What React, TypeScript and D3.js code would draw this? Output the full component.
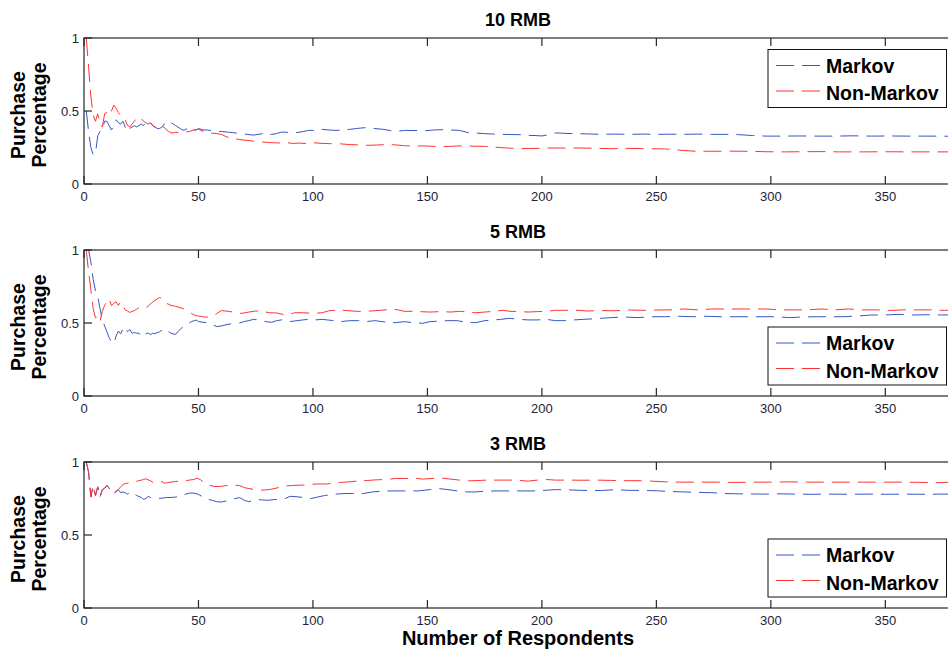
import React from 'react';
import * as d3 from 'd3';

type Pt = [number, number];

const panelTitles = ['10 RMB', '5 RMB', '3 RMB'];
const seriesNames = ['Markov', 'Non-Markov'];
const xTicks = [0, 50, 100, 150, 200, 250, 300, 350];
const yTicks = [0, 0.5, 1];
const xLabel = 'Number of Respondents';
const yLabelLines = ['Purchase', 'Percentage'];

const markov10: Pt[] = [
  [1,0.50],[2,0.36],[3,0.25],[4,0.20],[5,0.21],[6,0.33],[7,0.36],[8,0.37],[9,0.43],[10,0.43],[11,0.40],[12,0.37],[13,0.40],[14,0.44],[15,0.42],[16,0.41],[17,0.43],[18,0.39],[19,0.36],[20,0.38],[21,0.39],[22,0.40],[23,0.39],[24,0.40],[25,0.41],[26,0.40],[27,0.42],[28,0.41],[29,0.42],[30,0.40],[31,0.39],[32,0.38],[33,0.38],[34,0.39],[35,0.41],[36,0.42],[37,0.43],[38,0.42],[39,0.41],[40,0.40],[41,0.39],[42,0.38],[43,0.37],[44,0.37],[45,0.38],[46,0.37],[47,0.36],[48,0.37],[49,0.37],[50,0.38],[52,0.37],[54,0.37],[57,0.36],[60,0.36],[63,0.355],[66,0.35],[68,0.345],[71,0.34],[74,0.335],[76,0.34],[78,0.345],[80,0.335],[82,0.34],[84,0.345],[86,0.355],[88,0.355],[91,0.35],[93,0.352],[96,0.36],[98,0.367],[100,0.367],[104,0.374],[107,0.37],[110,0.367],[113,0.37],[116,0.374],[119,0.38],[122,0.385],[124,0.386],[127,0.38],[131,0.374],[134,0.365],[136,0.36],[140,0.367],[145,0.366],[149,0.365],[153,0.37],[156,0.372],[160,0.37],[164,0.367],[168,0.351],[172,0.348],[175,0.345],[179,0.342],[182,0.34],[186,0.339],[190,0.338],[194,0.333],[197,0.332],[200,0.329],[203,0.338],[206,0.35],[210,0.347],[214,0.345],[220,0.343],[226,0.34],[232,0.342],[238,0.34],[244,0.342],[250,0.34],[256,0.341],[262,0.34],[268,0.342],[274,0.34],[280,0.34],[286,0.338],[292,0.332],[298,0.328],[305,0.328],[312,0.329],[320,0.328],[328,0.328],[336,0.33],[344,0.328],[352,0.329],[360,0.328],[368,0.328],[380,0.327]
];

const nonMarkov10: Pt[] = [
  [1,1.0],[2,0.8],[3,0.6],[4,0.47],[5,0.43],[6,0.48],[7,0.41],[8,0.39],[9,0.48],[10,0.49],[11,0.47],[12,0.50],[13,0.54],[14,0.52],[15,0.49],[16,0.47],[17,0.46],[18,0.44],[19,0.40],[20,0.39],[21,0.41],[22,0.43],[23,0.45],[24,0.46],[25,0.45],[26,0.43],[27,0.42],[28,0.41],[29,0.42],[30,0.40],[31,0.39],[32,0.39],[33,0.40],[34,0.39],[35,0.39],[36,0.37],[37,0.36],[38,0.35],[39,0.35],[40,0.355],[42,0.35],[44,0.355],[46,0.36],[48,0.37],[50,0.375],[52,0.36],[54,0.35],[56,0.348],[58,0.345],[60,0.34],[62,0.325],[64,0.315],[66,0.31],[68,0.305],[70,0.3],[72,0.298],[74,0.293],[76,0.29],[78,0.288],[80,0.285],[82,0.283],[85,0.281],[88,0.285],[91,0.278],[94,0.28],[97,0.277],[100,0.283],[104,0.278],[108,0.276],[112,0.275],[116,0.27],[120,0.268],[124,0.265],[128,0.267],[132,0.27],[136,0.268],[140,0.262],[145,0.261],[150,0.26],[155,0.256],[160,0.258],[165,0.261],[170,0.259],[175,0.258],[180,0.252],[185,0.246],[190,0.243],[195,0.243],[200,0.245],[205,0.247],[210,0.246],[215,0.247],[222,0.245],[230,0.242],[238,0.244],[246,0.242],[254,0.24],[260,0.232],[266,0.225],[274,0.224],[282,0.225],[290,0.224],[298,0.221],[306,0.22],[314,0.221],[322,0.222],[330,0.22],[340,0.22],[350,0.221],[360,0.22],[370,0.22],[380,0.22]
];

const markov5: Pt[] = [
  [1,1.0],[2,1.0],[3,0.92],[4,0.8],[5,0.72],[6,0.68],[7,0.6],[8,0.52],[9,0.48],[10,0.44],[11,0.40],[12,0.37],[13,0.36],[14,0.41],[15,0.445],[16,0.425],[17,0.46],[18,0.475],[19,0.44],[20,0.455],[21,0.43],[22,0.435],[23,0.43],[24,0.43],[25,0.41],[26,0.405],[27,0.425],[28,0.432],[29,0.42],[30,0.43],[31,0.428],[32,0.434],[33,0.44],[34,0.45],[35,0.46],[36,0.452],[37,0.44],[38,0.43],[39,0.425],[40,0.422],[41,0.44],[42,0.457],[43,0.47],[44,0.485],[45,0.49],[46,0.5],[47,0.51],[48,0.515],[49,0.52],[50,0.51],[52,0.505],[54,0.502],[56,0.49],[58,0.475],[60,0.48],[62,0.488],[64,0.494],[66,0.5],[68,0.5],[70,0.51],[72,0.516],[74,0.525],[76,0.521],[78,0.515],[80,0.508],[82,0.505],[84,0.515],[86,0.521],[88,0.522],[90,0.51],[92,0.514],[95,0.52],[98,0.525],[101,0.521],[104,0.525],[108,0.518],[112,0.509],[116,0.516],[120,0.516],[123,0.509],[127,0.516],[131,0.508],[136,0.502],[140,0.509],[144,0.502],[148,0.498],[151,0.509],[155,0.513],[159,0.516],[163,0.516],[167,0.505],[171,0.502],[175,0.516],[179,0.521],[182,0.525],[186,0.532],[190,0.525],[194,0.521],[198,0.521],[202,0.525],[206,0.516],[210,0.516],[214,0.521],[218,0.525],[224,0.53],[230,0.537],[236,0.541],[242,0.537],[248,0.543],[254,0.543],[260,0.546],[266,0.543],[272,0.546],[278,0.543],[284,0.543],[290,0.543],[296,0.543],[302,0.543],[308,0.537],[314,0.541],[320,0.543],[326,0.543],[332,0.543],[338,0.548],[344,0.555],[350,0.555],[356,0.559],[362,0.555],[368,0.557],[374,0.555],[380,0.556]
];

const nonMarkov5: Pt[] = [
  [1,1.0],[2,0.85],[3,0.73],[4,0.6],[5,0.535],[6,0.545],[7,0.51],[8,0.58],[9,0.62],[10,0.65],[11,0.665],[12,0.62],[13,0.635],[14,0.645],[15,0.62],[16,0.645],[17,0.62],[18,0.59],[19,0.582],[20,0.572],[21,0.58],[22,0.585],[23,0.595],[24,0.605],[25,0.6],[26,0.604],[27,0.605],[28,0.615],[29,0.63],[30,0.643],[31,0.655],[32,0.665],[33,0.674],[34,0.668],[35,0.65],[36,0.635],[37,0.628],[38,0.62],[39,0.617],[40,0.614],[41,0.61],[42,0.605],[43,0.6],[44,0.596],[45,0.59],[46,0.577],[47,0.565],[48,0.556],[49,0.55],[50,0.548],[51,0.545],[53,0.54],[55,0.542],[57,0.552],[58,0.565],[60,0.585],[63,0.58],[66,0.573],[69,0.566],[72,0.575],[75,0.582],[78,0.58],[81,0.57],[84,0.569],[86,0.562],[88,0.556],[90,0.56],[92,0.57],[96,0.57],[100,0.566],[104,0.57],[107,0.584],[111,0.589],[115,0.585],[119,0.58],[123,0.58],[127,0.584],[131,0.589],[135,0.596],[137,0.59],[140,0.58],[144,0.58],[148,0.577],[151,0.575],[156,0.578],[160,0.575],[164,0.58],[168,0.575],[171,0.57],[175,0.575],[179,0.58],[183,0.587],[186,0.58],[191,0.578],[194,0.575],[198,0.578],[202,0.58],[206,0.587],[210,0.587],[214,0.589],[220,0.582],[226,0.585],[232,0.584],[238,0.589],[244,0.587],[250,0.589],[256,0.59],[262,0.596],[268,0.59],[274,0.596],[280,0.596],[286,0.596],[292,0.596],[298,0.596],[304,0.59],[310,0.59],[316,0.59],[322,0.596],[328,0.59],[334,0.596],[340,0.59],[346,0.59],[352,0.586],[358,0.59],[364,0.59],[370,0.59],[376,0.586],[380,0.59]
];

const markov3: Pt[] = [
  [1,1.0],[2,0.93],[3,0.76],[4,0.84],[5,0.77],[6,0.83],[7,0.76],[8,0.81],[9,0.82],[10,0.84],[11,0.82],[12,0.79],[13,0.78],[14,0.8],[15,0.81],[16,0.79],[17,0.795],[18,0.79],[19,0.78],[20,0.79],[21,0.795],[22,0.78],[23,0.77],[24,0.764],[25,0.757],[26,0.745],[27,0.75],[28,0.764],[29,0.757],[30,0.752],[32,0.75],[34,0.752],[36,0.757],[38,0.757],[40,0.76],[42,0.764],[44,0.778],[46,0.787],[48,0.787],[50,0.778],[52,0.76],[54,0.745],[56,0.738],[58,0.728],[60,0.726],[62,0.733],[64,0.742],[66,0.75],[68,0.756],[70,0.738],[72,0.728],[74,0.738],[76,0.742],[78,0.74],[80,0.738],[83,0.742],[86,0.746],[88,0.75],[90,0.765],[93,0.762],[96,0.756],[99,0.749],[102,0.76],[105,0.77],[108,0.776],[110,0.78],[114,0.784],[118,0.784],[122,0.784],[126,0.795],[130,0.8],[135,0.802],[140,0.802],[146,0.802],[151,0.811],[155,0.818],[159,0.811],[163,0.802],[167,0.795],[171,0.795],[175,0.8],[180,0.802],[186,0.802],[192,0.802],[198,0.802],[202,0.807],[206,0.811],[210,0.81],[215,0.807],[220,0.805],[226,0.805],[232,0.81],[238,0.806],[244,0.805],[250,0.803],[256,0.798],[262,0.795],[268,0.792],[274,0.79],[280,0.784],[286,0.782],[292,0.781],[298,0.78],[304,0.782],[310,0.78],[318,0.779],[326,0.78],[334,0.779],[342,0.78],[350,0.779],[358,0.78],[366,0.779],[374,0.78],[380,0.78]
];

const nonMarkov3: Pt[] = [
  [1,1.0],[2,0.93],[3,0.76],[4,0.84],[5,0.77],[6,0.83],[7,0.76],[8,0.81],[9,0.82],[10,0.84],[11,0.82],[12,0.79],[13,0.78],[14,0.8],[15,0.81],[16,0.83],[17,0.845],[18,0.852],[19,0.855],[20,0.86],[22,0.865],[24,0.872],[26,0.88],[27,0.885],[28,0.878],[29,0.871],[30,0.862],[31,0.855],[32,0.858],[33,0.862],[34,0.867],[35,0.855],[36,0.857],[38,0.862],[40,0.867],[42,0.869],[44,0.871],[46,0.876],[48,0.88],[49,0.887],[50,0.885],[51,0.878],[52,0.862],[53,0.855],[54,0.845],[55,0.84],[57,0.832],[59,0.832],[61,0.836],[63,0.84],[66,0.841],[68,0.838],[70,0.825],[72,0.818],[74,0.813],[76,0.81],[78,0.807],[80,0.81],[82,0.814],[85,0.825],[88,0.836],[91,0.839],[94,0.841],[97,0.843],[100,0.848],[103,0.85],[106,0.849],[108,0.853],[112,0.86],[116,0.864],[120,0.871],[124,0.874],[128,0.878],[132,0.88],[136,0.887],[140,0.887],[144,0.89],[148,0.883],[152,0.887],[156,0.89],[160,0.883],[164,0.876],[168,0.871],[172,0.873],[176,0.876],[182,0.876],[188,0.876],[194,0.869],[198,0.876],[202,0.88],[206,0.876],[212,0.876],[218,0.875],[224,0.876],[230,0.874],[236,0.872],[242,0.872],[248,0.869],[254,0.864],[260,0.862],[268,0.862],[276,0.862],[284,0.86],[292,0.862],[300,0.862],[308,0.864],[316,0.862],[324,0.862],[332,0.862],[340,0.862],[348,0.862],[356,0.862],[364,0.861],[372,0.858],[380,0.862]
];

const FONT = '"Liberation Sans", Arial, Helvetica, sans-serif';
const BLUE = '#3556c4';
const RED = '#ff3232';
const AXIS = '#262626';
const TICKTXT = '#232338';
const DASH = '18,8';

export default function App() {
  const W = 948;
  const H = 652;
  const left = 84;
  const right = 954;
  const ph = 146;
  const tops = [38, 250, 462];
  const legendAtTop = [true, false, false];
  const data = [
    [markov10, nonMarkov10],
    [markov5, nonMarkov5],
    [markov3, nonMarkov3],
  ];
  const x = d3.scaleLinear().domain([0, 380]).range([left, right]);
  const colors = [BLUE, RED];

  return (
    <svg
      width={W}
      height={H}
      style={{ position: 'absolute', left: 0, top: 0, background: '#fff', fontFamily: FONT }}
    >
      <rect x={0} y={0} width={W} height={H} fill="#fff" />
      {tops.map((top, pi) => {
        const y = d3.scaleLinear().domain([0, 1]).range([top + ph, top]);
        const line = d3
          .line<Pt>()
          .x((d) => x(d[0]))
          .y((d) => y(d[1]));
        const bottom = top + ph;
        const legTop = legendAtTop[pi] ? top + 11.5 : bottom - 69;
        const clipId = `clip${pi}`;
        return (
          <g key={pi}>
            <defs>
              <clipPath id={clipId}>
                <rect x={left} y={top} width={right - left} height={ph} />
              </clipPath>
            </defs>
            <text
              x={518}
              y={top - 12}
              textAnchor="middle"
              fontWeight="bold"
              fontSize={18}
              fill="#000"
            >
              {panelTitles[pi]}
            </text>
            <g clipPath={`url(#${clipId})`}>
              {data[pi].map((s, si) => (
                <path
                  key={si}
                  d={line(s) || ''}
                  fill="none"
                  stroke={colors[si]}
                  strokeWidth={1}
                  strokeDasharray={DASH}
                />
              ))}
            </g>
            <rect
              x={left}
              y={top}
              width={right - left}
              height={ph}
              fill="none"
              stroke={AXIS}
              strokeWidth={1.2}
            />
            {xTicks.map((t) => (
              <g key={t}>
                <line x1={x(t)} x2={x(t)} y1={bottom} y2={bottom - 8} stroke={AXIS} strokeWidth={1.2} />
                <line x1={x(t)} x2={x(t)} y1={top} y2={top + 8} stroke={AXIS} strokeWidth={1.2} />
                <text x={x(t)} y={bottom + 17} textAnchor="middle" fontSize={13} fill={TICKTXT}>
                  {t}
                </text>
              </g>
            ))}
            {yTicks.map((t) => (
              <g key={t}>
                <line x1={left} x2={left + 8} y1={y(t)} y2={y(t)} stroke={AXIS} strokeWidth={1.2} />
                <text
                  x={left - 5}
                  y={y(t) + 4.5}
                  textAnchor="end"
                  fontSize={13}
                  fill={TICKTXT}
                >
                  {t}
                </text>
              </g>
            ))}
            {yLabelLines.map((l, li) => (
              <text
                key={li}
                transform={`translate(${li === 0 ? 25 : 46},${top + 77}) rotate(-90)`}
                textAnchor="middle"
                fontWeight="bold"
                fontSize={19.5}
                fill="#000"
              >
                {l}
              </text>
            ))}
            <rect
              x={768}
              y={legTop}
              width={178.5}
              height={58}
              fill="#fff"
              stroke="#111"
              strokeWidth={1}
            />
            {seriesNames.map((nm, si) => (
              <g key={nm}>
                <line
                  x1={776}
                  x2={820}
                  y1={legTop + 16 + si * 25.5}
                  y2={legTop + 16 + si * 25.5}
                  stroke={colors[si]}
                  strokeWidth={1}
                  strokeDasharray={DASH}
                />
                <text
                  x={826}
                  y={legTop + 23 + si * 27.5}
                  fontSize={19.5}
                  fontWeight="bold"
                  fill="#000"
                >
                  {nm}
                </text>
              </g>
            ))}
          </g>
        );
      })}
      <text x={518} y={645} textAnchor="middle" fontWeight="bold" fontSize={20} fill="#000">
        {xLabel}
      </text>
    </svg>
  );
}
